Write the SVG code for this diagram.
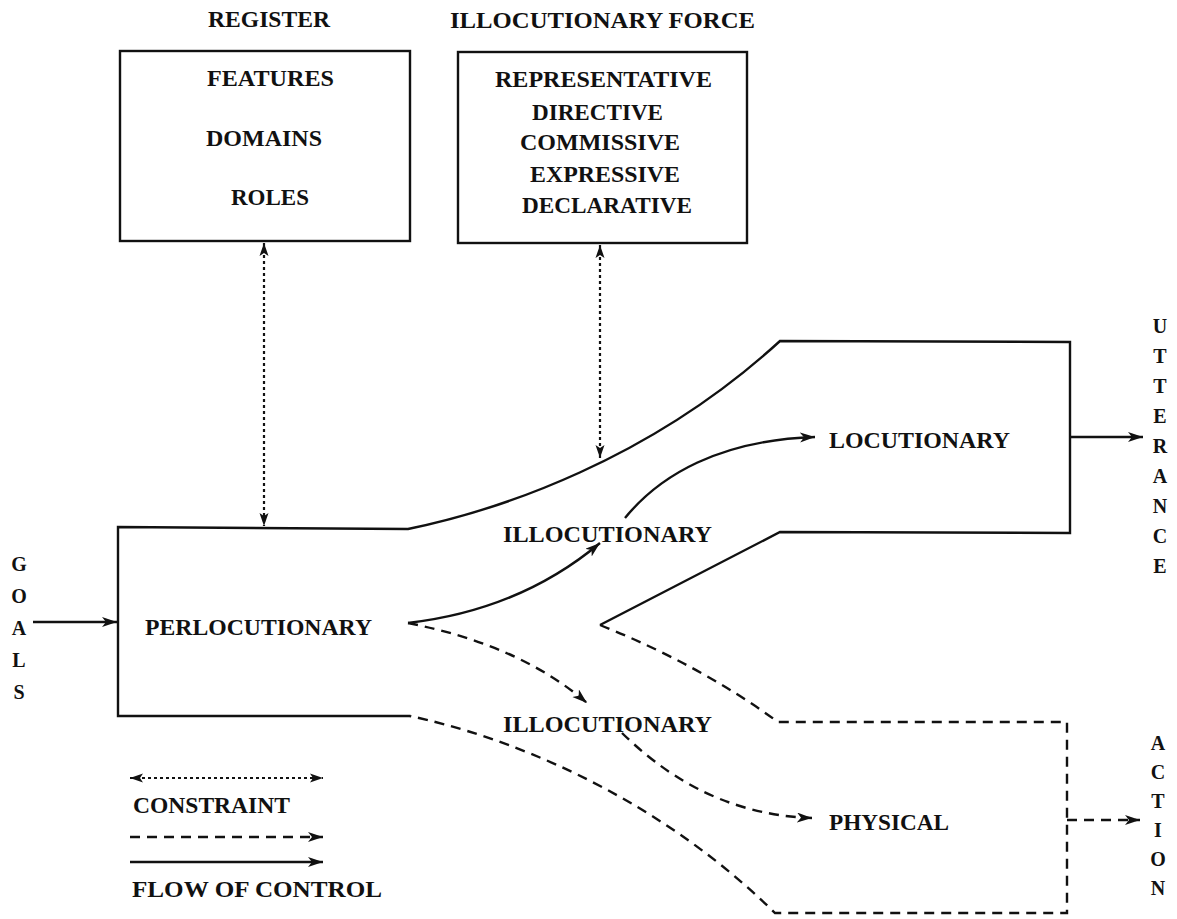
<svg xmlns="http://www.w3.org/2000/svg" width="1177" height="919" viewBox="0 0 1177 919">
<style>
  text { font-family: "Liberation Serif", "Times New Roman", serif; font-weight: bold; fill: #111; }
  .lbl { font-size: 23px; }
  .vert { font-size: 20px; text-anchor: middle; }
  .solid { fill: none; stroke: #111; stroke-width: 2.4; }
  .dash { fill: none; stroke: #111; stroke-width: 2.4; stroke-dasharray: 10 7; }
  .dot { fill: none; stroke: #111; stroke-width: 2.2; stroke-dasharray: 3 3; }
  .box { fill: none; stroke: #111; stroke-width: 2.4; }
</style>
<defs>
  <marker id="ah" markerUnits="userSpaceOnUse" markerWidth="18" markerHeight="12" refX="15" refY="5" orient="auto">
    <path d="M0,0 L15,5 L0,10 L4,5 Z" fill="#111" stroke="none"/>
  </marker>
  <marker id="ahd" markerUnits="userSpaceOnUse" markerWidth="16" markerHeight="12" refX="13" refY="5" orient="auto-start-reverse">
    <path d="M0,0.5 L13,5 L0,9.5 L3,5 Z" fill="#111" stroke="none"/>
  </marker>
</defs>
<rect width="1177" height="919" fill="#fff"/>

<g id="register">
  <text class="lbl" x="208" y="27" textLength="122" lengthAdjust="spacingAndGlyphs">REGISTER</text>
  <rect class="box" x="120" y="51" width="290" height="190"/>
  <text class="lbl" x="207" y="86" textLength="127" lengthAdjust="spacingAndGlyphs">FEATURES</text>
  <text class="lbl" x="206" y="146" textLength="116" lengthAdjust="spacingAndGlyphs">DOMAINS</text>
  <text class="lbl" x="231" y="205" textLength="78" lengthAdjust="spacingAndGlyphs">ROLES</text>
</g>

<g id="illocutionary-force">
  <text class="lbl" x="450" y="28" textLength="305" lengthAdjust="spacingAndGlyphs">ILLOCUTIONARY  FORCE</text>
  <rect class="box" x="458" y="52" width="289" height="191"/>
  <text class="lbl" x="495" y="87" textLength="217" lengthAdjust="spacingAndGlyphs">REPRESENTATIVE</text>
  <text class="lbl" x="532" y="120" textLength="131" lengthAdjust="spacingAndGlyphs">DIRECTIVE</text>
  <text class="lbl" x="520" y="150" textLength="160" lengthAdjust="spacingAndGlyphs">COMMISSIVE</text>
  <text class="lbl" x="530" y="182" textLength="150" lengthAdjust="spacingAndGlyphs">EXPRESSIVE</text>
  <text class="lbl" x="522" y="213" textLength="170" lengthAdjust="spacingAndGlyphs">DECLARATIVE</text>
</g>

<g id="channel">
  <path class="solid" d="M410,716 L118,716 L118,527 L408,529 C500,510 650,460 780,341 L1070,342 L1070,533 L780,532 L600,625"/>
  <path class="dash" d="M600,625 Q700,665 778,722 L1067,722 L1067,913 L775,913 C650,790 500,735 410,716"/>
</g>

<g id="perlocutionary">
  <text class="lbl" x="145" y="635" textLength="227" lengthAdjust="spacingAndGlyphs">PERLOCUTIONARY</text>
</g>
<g id="illocutionary-upper">
  <text class="lbl" x="503" y="542" textLength="209" lengthAdjust="spacingAndGlyphs">ILLOCUTIONARY</text>
</g>
<g id="illocutionary-lower">
  <text class="lbl" x="503" y="732" textLength="209" lengthAdjust="spacingAndGlyphs">ILLOCUTIONARY</text>
</g>
<g id="locutionary">
  <text class="lbl" x="829" y="448" textLength="181" lengthAdjust="spacingAndGlyphs">LOCUTIONARY</text>
</g>
<g id="physical">
  <text class="lbl" x="829" y="830" textLength="120" lengthAdjust="spacingAndGlyphs">PHYSICAL</text>
</g>

<g id="goals">
  <text class="vert" x="19" y="571">G</text>
  <text class="vert" x="19" y="603">O</text>
  <text class="vert" x="19" y="635">A</text>
  <text class="vert" x="19" y="667">L</text>
  <text class="vert" x="19" y="699">S</text>
</g>
<g id="utterance">
  <text class="vert" x="1160" y="333">U</text>
  <text class="vert" x="1160" y="363">T</text>
  <text class="vert" x="1160" y="393">T</text>
  <text class="vert" x="1160" y="423">E</text>
  <text class="vert" x="1160" y="453">R</text>
  <text class="vert" x="1160" y="483">A</text>
  <text class="vert" x="1160" y="513">N</text>
  <text class="vert" x="1160" y="543">C</text>
  <text class="vert" x="1160" y="573">E</text>
</g>
<g id="action">
  <text class="vert" x="1158" y="750">A</text>
  <text class="vert" x="1158" y="779">C</text>
  <text class="vert" x="1158" y="808">T</text>
  <text class="vert" x="1158" y="837">I</text>
  <text class="vert" x="1158" y="866">O</text>
  <text class="vert" x="1158" y="895">N</text>
</g>

<g id="connectors">
  <path class="solid" d="M33,622 L117,622" marker-end="url(#ah)"/>
  <path class="dot" d="M264,243 L264,526" marker-start="url(#ahd)" marker-end="url(#ahd)"/>
  <path class="dot" d="M600,245 L600,458" marker-start="url(#ahd)" marker-end="url(#ahd)"/>
  <path class="solid" d="M408,623 Q520,610 600,543" marker-end="url(#ah)"/>
  <path class="dash" d="M408,623 Q520,645 587,703" marker-end="url(#ah)"/>
  <path class="solid" d="M625,518 C660,475 720,440 815,437" marker-end="url(#ah)"/>
  <path class="dash" d="M622,733 C660,770 720,815 812,818" marker-end="url(#ah)"/>
  <path class="solid" d="M1070,437 L1143,437" marker-end="url(#ah)"/>
  <path class="dash" d="M1067,820 L1140,820" marker-end="url(#ah)"/>
</g>

<g id="legend">
  <path class="dot" d="M130,778 L323,778" marker-start="url(#ahd)" marker-end="url(#ahd)"/>
  <text class="lbl" x="133" y="813" textLength="157" lengthAdjust="spacingAndGlyphs">CONSTRAINT</text>
  <path class="dash" d="M130,837 L323,837" marker-end="url(#ah)"/>
  <path class="solid" d="M130,862 L323,862" marker-end="url(#ah)"/>
  <text class="lbl" x="132" y="897" textLength="250" lengthAdjust="spacingAndGlyphs">FLOW  OF  CONTROL</text>
</g>
</svg>
